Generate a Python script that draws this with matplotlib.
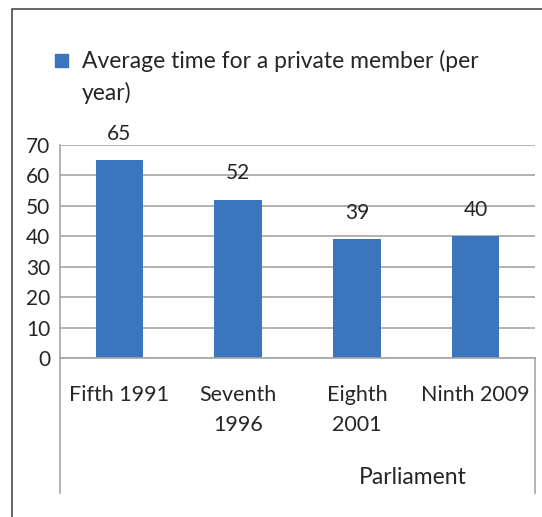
import matplotlib
matplotlib.use('Agg')
import matplotlib.pyplot as plt
from matplotlib.lines import Line2D
from matplotlib.patches import Rectangle

plt.rcParams['font.family'] = ['Lato', 'DejaVu Sans']

W, H = 542, 517
DPI = 100

categories = ['Fifth 1991', 'Seventh\n1996', 'Eighth\n2001', 'Ninth 2009']
avg_time = [65, 52, 39, 40]
series_name = 'Average time for a private member (per\nyear)'
axis_title = 'Parliament'
yticks = [0, 10, 20, 30, 40, 50, 60, 70]

BAR_COLOR = '#3A75BD'
GRID_COLOR = '#A6A6A6'
TEXT_COLOR = '#262626'
NUM_SIZE = 15
WORD_SIZE = 16.5


def fx(px):
    return px / W


def fy(py):
    return 1 - py / H


fig = plt.figure(figsize=(W / DPI, H / DPI), dpi=DPI)

# chart border (runs off the right and bottom edges)
fig.patches.append(Rectangle((fx(12), fy(530)), fx(560) - fx(12), fy(9) - fy(530),
                             transform=fig.transFigure, fill=False,
                             edgecolor='#3C3C3C', linewidth=1.1))

# plot area
left, right, top, bottom = 60, 535, 145, 358
ax = fig.add_axes([fx(left), fy(bottom), fx(right) - fx(left), fy(top) - fy(bottom)])
x = range(len(categories))
ax.bar(x, avg_time, width=0.4, color=BAR_COLOR, zorder=3)
ax.set_xlim(-0.5, len(categories) - 0.5)
ax.set_ylim(0, 70)
ax.set_yticks(yticks)
ax.set_yticklabels([str(t) for t in yticks], fontsize=NUM_SIZE, color=TEXT_COLOR)
ax.tick_params(axis='y', length=0, pad=7)
ax.tick_params(axis='x', length=0, labelbottom=False)
ax.grid(axis='y', color=GRID_COLOR, linewidth=1.2, zorder=0)
for s in ['top', 'right', 'bottom']:
    ax.spines[s].set_visible(False)
ax.spines['left'].set_color(GRID_COLOR)
ax.spines['left'].set_linewidth(1.2)

for i, v in enumerate(avg_time):
    ax.annotate(str(v), (i, v), xytext=(0, 19), textcoords='offset points',
                ha='center', va='center', fontsize=NUM_SIZE, color=TEXT_COLOR)

# category axis box
box_bottom = 493
for xs, ys in [([left, right], [bottom, bottom]),
               ([left, left], [bottom, box_bottom]),
               ([right, right], [bottom, box_bottom])]:
    fig.lines.append(Line2D([fx(v) for v in xs], [fy(v) for v in ys],
                            transform=fig.transFigure, color=GRID_COLOR, linewidth=1.2))

for i, name in enumerate(categories):
    fig.text(fx(left) + (i + 0.5) / len(categories) * (fx(right) - fx(left)), fy(385),
             name, ha='center', va='top', fontsize=15.5, color=TEXT_COLOR,
             linespacing=1.6)

fig.text(fx(413), fy(478), axis_title, ha='center', va='center',
         fontsize=WORD_SIZE, color=TEXT_COLOR)

# legend
fig.patches.append(Rectangle((fx(55), fy(67)), fx(68) - fx(55), fy(54) - fy(67),
                             transform=fig.transFigure, color=BAR_COLOR))
fig.text(fx(82), fy(50), series_name, ha='left', va='top', fontsize=WORD_SIZE,
         color=TEXT_COLOR, linespacing=1.55)

fig.savefig('out.png', dpi=DPI)
